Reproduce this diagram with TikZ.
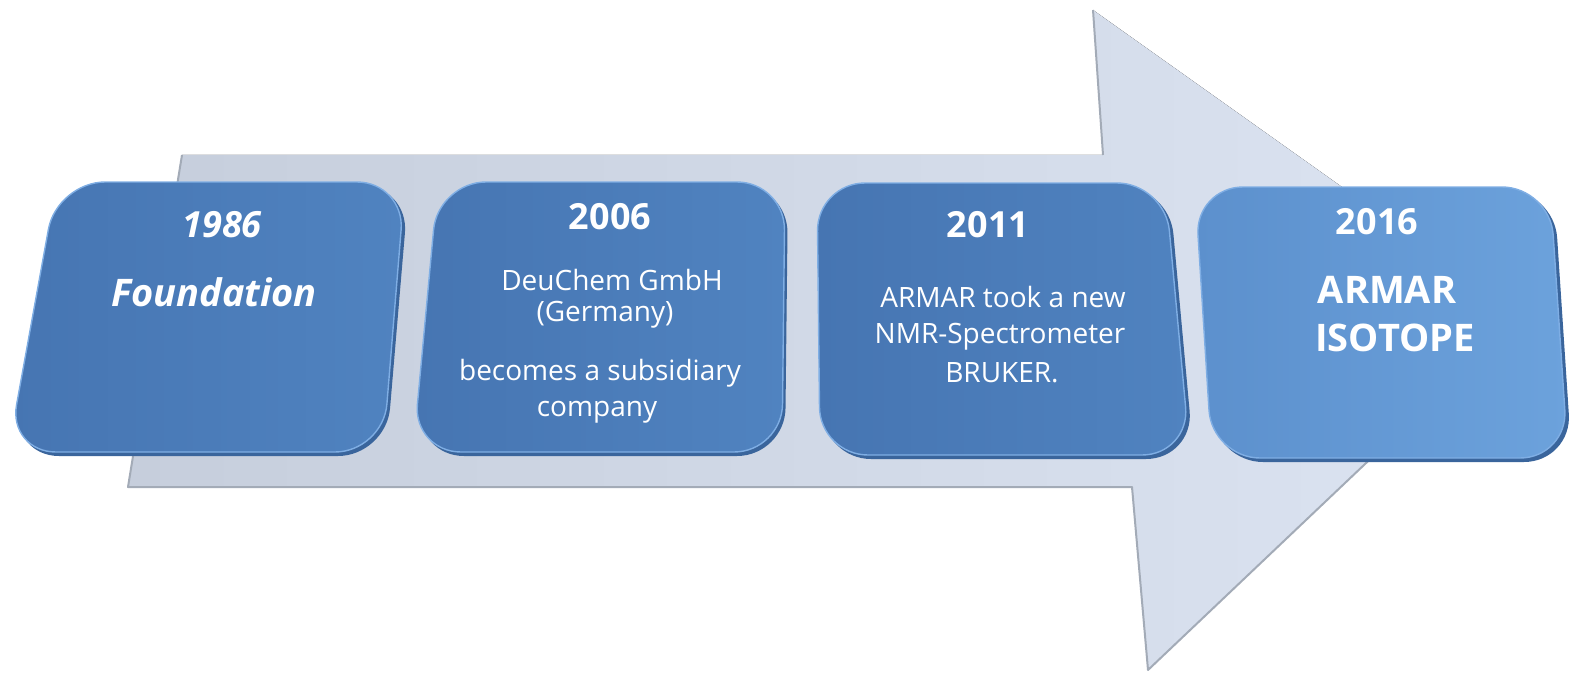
\documentclass[tikz,border=0pt]{standalone}
\usepackage{fontspec}
\setmainfont{Open Sans}
\definecolor{arrowL}{HTML}{C6CEDC}
\definecolor{arrowR}{HTML}{DCE4F2}
\definecolor{arrowEdge}{HTML}{A3ABB7}
\definecolor{boxA}{HTML}{4675B2}
\definecolor{boxB}{HTML}{5083C0}
\definecolor{boxC}{HTML}{5C90CD}
\definecolor{boxD}{HTML}{6CA2DC}
\definecolor{boxShadow}{HTML}{3A659C}
\definecolor{boxRim}{HTML}{7FAEE4}
\begin{document}
\begin{tikzpicture}[x=0.5pt,y=-0.5pt,
  yeartext/.style={text=white, font=\fontsize{18}{20}\selectfont\bfseries, inner sep=0pt},
  bodytext/.style={text=white, font=\fontsize{14}{16}\selectfont, inner sep=0pt},
  bigtext/.style={text=white, font=\fontsize{19}{21}\selectfont\bfseries, inner sep=0pt},
  boxshade/.style={rounded corners=24pt, fill=boxShadow},
  boxface/.style={rounded corners=24pt, left color=boxA, right color=boxB, draw=boxRim, line width=0.7pt},
  boxfacelight/.style={rounded corners=24pt, left color=boxC, right color=boxD, draw=boxRim, line width=0.7pt},
  arrowline/.style={draw=arrowEdge, line width=1pt}
]
\useasboundingbox (0,0) rectangle (1569,674);

% big arrow
\coordinate (s1) at (182,155);
\coordinate (s2) at (1103,155);
\coordinate (h1) at (1093,10);
\coordinate (tip) at (1522,315);
\coordinate (h2) at (1148,670);
\coordinate (s3) at (1132,487);
\coordinate (s4) at (128,487);
\fill[left color=arrowL, right color=arrowR] (s1) -- (s2) -- (h1) -- (tip) -- (h2) -- (s3) -- (s4) -- cycle;
\draw[arrowline] (s2) -- (h1);
\draw[arrowline, line join=round] (tip) -- (h2) -- (s3) -- (s4) -- (s1);

% box 1
\fill[boxshade] (61,185) -- (409,185) -- (386,456) -- (11,456) -- cycle;
\path[boxface] (57,182) -- (405,182) -- (383,452) -- (8,452) -- cycle;
% box 2
\fill[boxshade] (442,185) -- (788,185) -- (785,456) -- (416,456) -- cycle;
\path[boxface] (438,182) -- (785,182) -- (782,452) -- (413,452) -- cycle;
% box 3
\fill[boxshade] (821,186) -- (1169,186) -- (1194,459) -- (823,459) -- cycle;
\path[boxface] (817,183) -- (1165,183) -- (1190,455) -- (820,455) -- cycle;
% box 4
\fill[boxshade] (1199,190) -- (1554,190) -- (1572,462) -- (1215,462) -- cycle;
\path[boxfacelight] (1195,187) -- (1550,187) -- (1568,458) -- (1212,458) -- cycle;

% texts
\node[yeartext, font=\fontsize{18}{20}\selectfont\bfseries\itshape] (y1) at (222,225) {1986};
\node[bigtext, font=\fontsize{19}{21}\selectfont\bfseries\itshape] (t1) at (214,292) {Foundation};

\node[yeartext] (y2) at (610,217) {2006};
\node[bodytext] (t2a) at (612,280) {DeuChem GmbH};
\node[bodytext] (t2b) at (605,315) {(Germany)};
\node[bodytext] (t2c) at (600,373) {becomes a subsidiary};
\node[bodytext] (t2d) at (597,412) {company};

\node[yeartext] (y3) at (988,225) {2011};
\node[bodytext] (t3a) at (1003,297) {ARMAR took a new};
\node[bodytext] (t3b) at (1000,337) {NMR-Spectrometer};
\node[bodytext] (t3c) at (1002,373) {BRUKER.};

\node[yeartext] (y4) at (1377,222) {2016};
\node[bigtext] (t4a) at (1387,290) {ARMAR};
\node[bigtext] (t4b) at (1395,338) {ISOTOPE};
\end{tikzpicture}
\end{document}
